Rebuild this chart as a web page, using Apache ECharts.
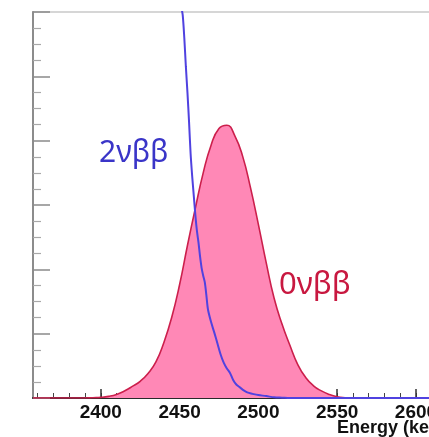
<!DOCTYPE html>
<html>
<head>
<meta charset="utf-8">
<script src="https://cdn.jsdelivr.net/npm/echarts@6/dist/echarts.min.js"></script>
<style>
  html, body { margin: 0; padding: 0; background: #ffffff; }
  #chart { width: 429px; height: 437px; }
</style>
</head>
<body>
<div id="chart"></div>
<script>
// Energy window (keV) and tick positions
const energyMin = 2357;
const energyMax = 2640;
const majorTicks = [2400, 2450, 2500, 2550, 2600, 2650];
const minorTicks = [2360, 2370, 2380, 2390, 2400, 2410, 2420, 2430, 2440, 2450,
                    2460, 2470, 2480, 2490, 2500, 2510, 2520, 2530, 2540, 2550,
                    2560, 2570, 2580, 2590, 2600, 2610, 2620, 2630];

// 0νββ peak: energy (keV) and counts (arbitrary units)
const zeroNuEnergy = [2357, 2390, 2395, 2400, 2405, 2410, 2415, 2420, 2425, 2430,
                      2435, 2440, 2445, 2450, 2455, 2460, 2465, 2470, 2475, 2480,
                      2485, 2490, 2495, 2500, 2505, 2510, 2515, 2520, 2525, 2530,
                      2535, 2540, 2545, 2550, 2555, 2560, 2640];
const zeroNuCounts = [0, 0, 0.005, 0.01, 0.025, 0.055, 0.11, 0.18, 0.26, 0.38,
                      0.56, 0.86, 1.25, 1.76, 2.37, 2.95, 3.50, 3.93, 4.19, 4.24,
                      4.08, 3.76, 3.27, 2.70, 2.10, 1.55, 1.15, 0.82, 0.52, 0.32,
                      0.19, 0.11, 0.055, 0.02, 0.005, 0, 0];

// 2νββ continuum tail: energy (keV) and counts
const twoNuEnergy = [2445, 2448, 2449, 2450, 2451, 2452, 2453, 2454, 2455, 2456,
                     2457, 2458, 2459, 2460, 2461, 2462, 2463, 2464, 2465, 2466,
                     2467, 2468, 2470, 2472, 2474, 2476, 2478, 2480, 2482, 2484,
                     2486, 2488, 2490, 2492, 2494, 2497, 2500, 2505, 2510, 2515,
                     2520, 2640];
const twoNuCounts = [8.5, 7.2, 6.6, 6.35, 6.10, 5.95, 5.60, 5.15, 4.75, 4.30,
                     3.80, 3.45, 3.15, 2.85, 2.60, 2.42, 2.20, 2.02, 1.90, 1.80,
                     1.60, 1.38, 1.18, 1.02, 0.85, 0.68, 0.55, 0.46, 0.39, 0.28,
                     0.21, 0.17, 0.13, 0.10, 0.08, 0.06, 0.045, 0.03, 0.01, 0.005,
                     0, 0];

const zeroNuData = zeroNuEnergy.map((e, i) => [e, zeroNuCounts[i]]);
const twoNuData = twoNuEnergy.map((e, i) => [e, twoNuCounts[i]]);

const chart = echarts.init(document.getElementById('chart'), null, { renderer: 'canvas' });

chart.setOption({
  backgroundColor: '#ffffff',
  animation: false,
  grid: {
    left: 33, right: -50, top: 12, bottom: 39,
    outerBoundsMode: 'none', containLabel: false,
    show: true, borderColor: '#d6d6d6', borderWidth: 2, backgroundColor: 'transparent'
  },
  xAxis: [
    {
      type: 'value', min: energyMin, max: energyMax, position: 'bottom',
      axisLine: { lineStyle: { color: '#2a2a2a', width: 2 } },
      axisTick: { inside: true, length: 5, customValues: minorTicks, lineStyle: { color: '#444', width: 1 } },
      axisLabel: {
        customValues: majorTicks, margin: 5, color: '#111',
        formatter: (v) => String(v),
        fontFamily: 'Liberation Sans', fontWeight: 'bold', fontSize: 19
      },
      splitLine: { show: false }
    },
    {
      type: 'value', min: energyMin, max: energyMax, position: 'bottom',
      axisLine: { show: false },
      axisTick: { inside: true, length: 9, customValues: majorTicks, lineStyle: { color: '#333', width: 1.5 } },
      axisLabel: { show: false },
      splitLine: { show: false }
    }
  ],
  yAxis: {
    type: 'value', min: 0, max: 6, interval: 1,
    axisLine: { show: true, lineStyle: { color: '#8c8c8c', width: 2 } },
    axisTick: { show: true, inside: true, length: 17, lineStyle: { color: '#8a8a8a', width: 1.5 } },
    minorTick: { show: true, splitNumber: 4, length: 8, lineStyle: { color: '#a8a8a8', width: 1.2 } },
    axisLabel: { show: false },
    splitLine: { show: false }
  },
  series: [
    {
      name: '0νββ', type: 'line', xAxisIndex: 0, data: zeroNuData,
      smooth: 0.5, showSymbol: false, clip: true,
      lineStyle: { color: '#cc1f4c', width: 1.6 },
      areaStyle: { color: '#ff88b6', opacity: 1 },
      z: 2
    },
    {
      name: '2νββ', type: 'line', xAxisIndex: 0, data: twoNuData,
      smooth: 0.3, showSymbol: false, clip: true,
      lineStyle: { color: '#5042e0', width: 2 },
      z: 3
    }
  ],
  graphic: [
    {
      type: 'text', left: 99, top: 138, z: 10,
      style: { text: '2νββ', fill: '#3a35c8', font: '30px "Noto Sans"' }
    },
    {
      type: 'text', left: 279, top: 270, z: 10,
      style: { text: '0νββ', fill: '#c81840', font: '31px "Noto Sans"' }
    },
    {
      // x-axis title, running past the right edge
      type: 'text', left: 337, top: 419, z: 10,
      style: { text: 'Energy (keV)', fill: '#111', font: 'bold 18px "Liberation Sans"' }
    }
  ]
});
</script>
</body>
</html>
